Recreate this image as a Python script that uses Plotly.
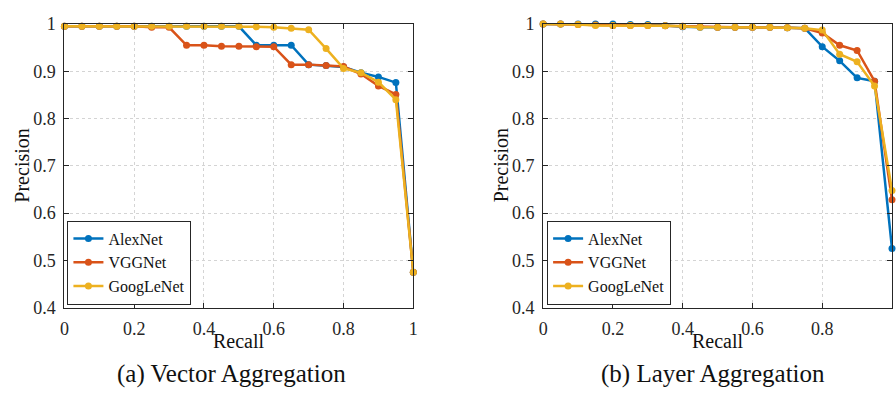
import plotly.graph_objects as go

recall = [0, 0.05, 0.1, 0.15, 0.2, 0.25, 0.3, 0.35, 0.4, 0.45, 0.5,
          0.55, 0.6, 0.65, 0.7, 0.75, 0.8, 0.85, 0.9, 0.95, 1.0]

# (a) Vector Aggregation
vec_alexnet = [0.995, 0.995, 0.995, 0.995, 0.995, 0.995, 0.995, 0.995, 0.995, 0.995, 0.995,
               0.955, 0.955, 0.955, 0.914, 0.912, 0.909, 0.897, 0.888, 0.876, 0.475]
vec_vggnet = [0.995, 0.995, 0.995, 0.995, 0.995, 0.993, 0.993, 0.955, 0.955, 0.953, 0.953,
              0.952, 0.952, 0.914, 0.914, 0.912, 0.910, 0.894, 0.869, 0.851, 0.475]
vec_googlenet = [0.995, 0.995, 0.995, 0.995, 0.995, 0.995, 0.995, 0.995, 0.995, 0.995, 0.995,
                 0.994, 0.993, 0.991, 0.988, 0.948, 0.906, 0.897, 0.877, 0.840, 0.475]

# (b) Layer Aggregation
lay_alexnet = [1.0, 1.0, 1.0, 1.0, 1.0, 0.999, 0.999, 0.997, 0.994, 0.993, 0.993,
               0.993, 0.993, 0.993, 0.992, 0.991, 0.952, 0.922, 0.886, 0.879, 0.525]
lay_vggnet = [1.0, 1.0, 0.999, 0.998, 0.997, 0.997, 0.997, 0.996, 0.995, 0.994, 0.993,
              0.993, 0.993, 0.993, 0.992, 0.991, 0.981, 0.955, 0.944, 0.879, 0.628]
lay_googlenet = [1.0, 1.0, 0.999, 0.997, 0.997, 0.997, 0.997, 0.996, 0.995, 0.993, 0.993,
                 0.993, 0.993, 0.993, 0.992, 0.991, 0.987, 0.936, 0.920, 0.869, 0.648]

names = ["AlexNet", "VGGNet", "GoogLeNet"]
colors = ["#0072BD", "#D95319", "#EDB120"]

x_ticks = [0, 0.2, 0.4, 0.6, 0.8, 1]
x_tick_labels = ["0", "0.2", "0.4", "0.6", "0.8", "1"]
y_ticks = [0.4, 0.5, 0.6, 0.7, 0.8, 0.9, 1]
y_tick_labels = ["0.4", "0.5", "0.6", "0.7", "0.8", "0.9", "1"]

FONT = "Liberation Serif"
AX = "#262626"

fig = go.Figure()

for i, ys in enumerate([vec_alexnet, vec_vggnet, vec_googlenet]):
    fig.add_trace(go.Scatter(x=recall, y=ys, mode="lines+markers", name=names[i],
                             line=dict(color=colors[i], width=2.5),
                             marker=dict(color=colors[i], size=7),
                             cliponaxis=False, xaxis="x", yaxis="y", legend="legend"))
for i, ys in enumerate([lay_alexnet, lay_vggnet, lay_googlenet]):
    fig.add_trace(go.Scatter(x=recall, y=ys, mode="lines+markers", name=names[i],
                             line=dict(color=colors[i], width=2.5),
                             marker=dict(color=colors[i], size=7),
                             cliponaxis=False, xaxis="x2", yaxis="y2", legend="legend2"))

W, H = 896, 401
y_dom = [1 - 313.3 / H, 1 - 14.7 / H]

def xaxis(dom, anchor):
    return dict(domain=dom, anchor=anchor, range=[0, 1], tickvals=x_ticks, ticktext=x_tick_labels,
                ticks="inside", ticklen=5, tickcolor=AX, showline=True, linecolor=AX, linewidth=1,
                mirror="ticks", showgrid=True, gridcolor="#d4d4d4", griddash="dot", gridwidth=1,
                zeroline=False, ticklabelstandoff=5, tickfont=dict(family=FONT, size=18, color=AX))

def yaxis(anchor):
    return dict(domain=y_dom, anchor=anchor, range=[0.4, 1], tickvals=y_ticks, ticktext=y_tick_labels,
                ticks="inside", ticklen=5, tickcolor=AX, showline=True, linecolor=AX, linewidth=1,
                mirror="ticks", showgrid=True, gridcolor="#d4d4d4", griddash="dot", gridwidth=1,
                zeroline=False, ticklabelstandoff=4, tickfont=dict(family=FONT, size=18, color=AX))

legend_common = dict(bgcolor="white", bordercolor=AX, borderwidth=1,
                     font=dict(family=FONT, size=16, color="#111"),
                     xanchor="left", yanchor="bottom", tracegroupgap=0, itemwidth=30)

fig.update_layout(
    width=W, height=H, margin=dict(l=0, r=0, t=0, b=0),
    paper_bgcolor="white", plot_bgcolor="white",
    xaxis=xaxis([61 / W, 413 / W], "y"), yaxis=yaxis("x"),
    xaxis2=xaxis([544 / W, 1.0], "y2"), yaxis2=yaxis("x2"),
    legend=dict(x=64 / W, y=1 - 310 / H, **legend_common),
    legend2=dict(x=548 / W, y=1 - 310 / H, **legend_common),
    font=dict(family=FONT, color="#111"),
)

annots = [
    dict(text="Recall", x=237 / W, y=1 - 348 / H, size=20),
    dict(text="Recall", x=720 / W, y=1 - 348 / H, size=20),
    dict(text="(a) Vector Aggregation", x=230 / W, y=1 - 383 / H, size=25),
    dict(text="(b) Layer Aggregation", x=715 / W, y=1 - 383 / H, size=25),
]
for a in annots:
    fig.add_annotation(text=a["text"], x=a["x"], y=a["y"], xref="paper", yref="paper",
                       showarrow=False, xanchor="center", yanchor="middle",
                       font=dict(family=FONT, size=a["size"], color="#111"))
for xp in [18, 501]:
    fig.add_annotation(text="Precision", x=xp / W, y=1 - 164 / H, xref="paper", yref="paper",
                       showarrow=False, textangle=-90, xanchor="center", yanchor="middle",
                       font=dict(family=FONT, size=20, color="#111"))

fig.write_html("out.html",
               post_script="document.body.style.margin='0';document.body.style.overflow='hidden';")
